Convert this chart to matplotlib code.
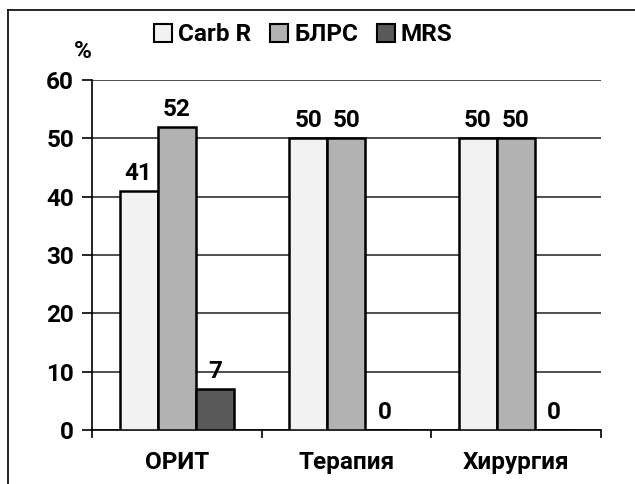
import numpy as np
import matplotlib.pyplot as plt
from matplotlib.lines import Line2D

categories = ['ОРИТ', 'Терапия', 'Хирургия']
series = ['Carb R', 'БЛРС', 'MRS']
carb_r = [41, 50, 50]
blrs = [52, 50, 50]
mrs = [7, 0, 0]
colors = ['#f2f2f2', '#b2b2b2', '#595959']

plt.rcParams['font.family'] = ['Roboto', 'DejaVu Sans']
plt.rcParams['font.weight'] = 'bold'
fs = 17.5

fig = plt.figure(figsize=(6.35, 4.84), dpi=100)
ax = fig.add_axes([0.145, 0.1116, 0.801, 0.7234])

x = np.arange(len(categories))
w = 0.225
for i, (vals, name) in enumerate(zip([carb_r, blrs, mrs], series)):
    pos = x + (i - 1) * w
    ax.bar(pos, vals, w, color=colors[i], edgecolor='black', linewidth=1.8,
           label=name, zorder=3)
    for p, v in zip(pos, vals):
        ax.text(p, v + 1.0, str(v), ha='center', va='bottom', fontsize=fs,
                fontweight='bold')

ax.set_ylim(0, 60)
ax.set_xlim(-0.5, 2.5)
ax.set_yticks(range(0, 61, 10))
ax.yaxis.grid(True, color='#303030', linewidth=1.2, zorder=0)
ax.set_xticks([-0.5, 0.5, 1.5, 2.5])
ax.set_xticklabels([])
ax.set_xticks(x, minor=True)
ax.set_xticklabels(categories, minor=True, fontsize=fs, fontweight='bold')
ax.tick_params(axis='x', which='major', direction='out', length=6, width=1.2)
ax.tick_params(axis='x', which='minor', length=0, pad=15)
ax.tick_params(axis='y', direction='out', length=7, width=1.2, labelsize=fs, pad=6)
for s in ['top', 'right']:
    ax.spines[s].set_visible(False)
ax.spines['left'].set_linewidth(1.2)
ax.spines['bottom'].set_linewidth(1.2)

ax.text(-0.018, 1.08, '%', transform=ax.transAxes, fontsize=fs,
        fontweight='bold', ha='center', va='center')

leg = fig.legend(loc='center', bbox_to_anchor=(0.478, 0.928), ncol=3,
                 frameon=False, fontsize=fs, handlelength=0.72,
                 handleheight=0.72, handletextpad=0.25, columnspacing=0.8)
for h in leg.legend_handles:
    h.set_linewidth(1.5)

fig.add_artist(Line2D([8 / 635, 8 / 635], [0, 1 - 10 / 484], color='black',
                      linewidth=1.2, transform=fig.transFigure))
fig.add_artist(Line2D([8 / 635, 1], [1 - 10 / 484, 1 - 10 / 484], color='black',
                      linewidth=1.2, transform=fig.transFigure))

fig.savefig('out.png', dpi=100)
